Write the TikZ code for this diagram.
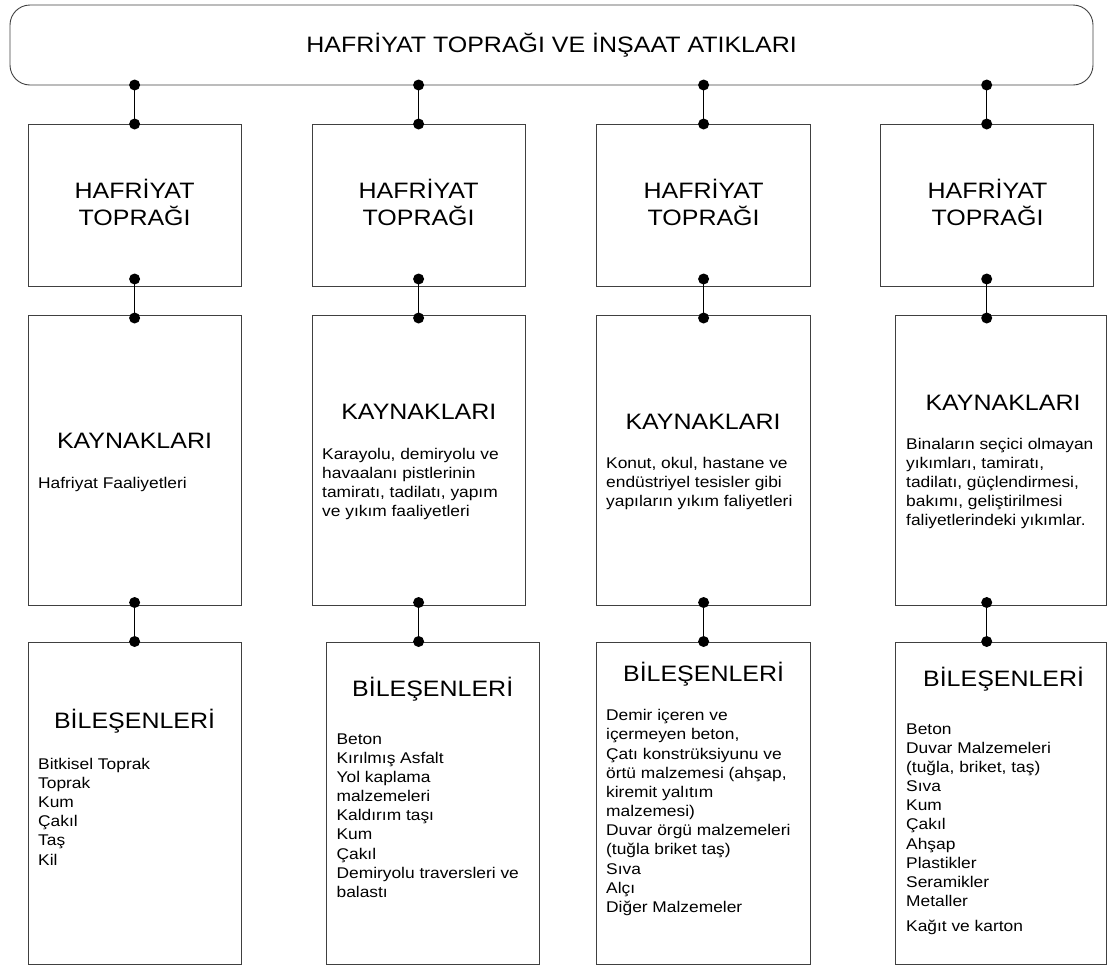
\documentclass[tikz,border=0pt]{standalone}
\usepackage{fontspec}
\setmainfont{Liberation Sans}[FakeStretch=1.12]
\begin{document}
\begin{tikzpicture}[x=1pt,y=-1pt,
  box/.style={draw=black!75, line width=0.9pt, rectangle, inner sep=0pt},
  dot/.style={circle, fill=black, inner sep=0pt, minimum size=11pt},
  conn/.style={line width=1.2pt, draw=black},
  hd/.style={font=\fontsize{22.3}{27}\selectfont, align=center, inner sep=0pt, anchor=base},
  txt/.style={font=\fontsize{15.5}{19.15}\selectfont, align=left, inner sep=0pt, anchor=base west}]
\useasboundingbox (0,0) rectangle (1107,967);

% top box
\node[box, rounded corners=20pt, minimum width=1083pt, minimum height=80pt] (top) at (551.5,45) {};
\node[hd] (title) at (551.5,52.3) {HAFRİYAT TOPRAĞI VE İNŞAAT ATIKLARI};

% row 1
\node[box, minimum width=213pt, minimum height=162pt] (h1) at (134.5,205) {};
\node[box, minimum width=213pt, minimum height=162pt] (h2) at (418.5,205) {};
\node[box, minimum width=214pt, minimum height=162pt] (h3) at (703,205) {};
\node[box, minimum width=213pt, minimum height=162pt] (h4) at (986.5,205) {};
\node[hd] (h1t) at (134.6,225) {HAFRİYAT\\TOPRAĞI};
\node[hd] (h2t) at (418.6,225) {HAFRİYAT\\TOPRAĞI};
\node[hd] (h3t) at (703.6,225) {HAFRİYAT\\TOPRAĞI};
\node[hd] (h4t) at (987.5,225) {HAFRİYAT\\TOPRAĞI};

% row 2
\node[box, minimum width=213pt, minimum height=290pt] (k1) at (134.5,460) {};
\node[box, minimum width=213pt, minimum height=290pt] (k2) at (418.5,460) {};
\node[box, minimum width=214pt, minimum height=290pt] (k3) at (703,460) {};
\node[box, minimum width=211pt, minimum height=290pt] (k4) at (1000.5,460) {};
\node[hd] (k1h) at (134.5,448.3) {KAYNAKLARI};
\node[hd] (k2h) at (418.8,419) {KAYNAKLARI};
\node[hd] (k3h) at (703,429) {KAYNAKLARI};
\node[hd] (k4h) at (1003,410) {KAYNAKLARI};
\node[txt] (k1t) at (38,488.7) {Hafriyat Faaliyetleri};
\node[txt] (k2t) at (322,516.5) {Karayolu, demiryolu ve\\havaalanı pistlerinin\\tamiratı, tadilatı, yapım\\ve yıkım faaliyetleri};
\node[txt] (k3t) at (606,506.6) {Konut, okul, hastane ve\\endüstriyel tesisler gibi\\yapıların yıkım faliyetleri};
\node[txt] (k4t) at (906,525.9) {Binaların seçici olmayan\\yıkımları, tamiratı,\\tadilatı, güçlendirmesi,\\bakımı, geliştirilmesi\\faliyetlerindeki yıkımlar.};

% row 3
\node[box, minimum width=213pt, minimum height=322pt] (b1) at (134.5,803) {};
\node[box, minimum width=213pt, minimum height=322pt] (b2) at (432.5,803) {};
\node[box, minimum width=214pt, minimum height=322pt] (b3) at (703,803) {};
\node[box, minimum width=211pt, minimum height=322pt] (b4) at (1000.5,803) {};
\node[hd] (b1h) at (134.6,728.3) {BİLEŞENLERİ};
\node[hd] (b2h) at (432.7,696.7) {BİLEŞENLERİ};
\node[hd] (b3h) at (703.6,681.7) {BİLEŞENLERİ};
\node[hd] (b4h) at (1003.6,686.7) {BİLEŞENLERİ};
\node[txt] (b1t) at (38,865) {Bitkisel Toprak\\Toprak\\Kum\\Çakıl\\Taş\\Kil};
\node[txt] (b2t) at (336.4,897.3) {Beton\\Kırılmış Asfalt\\Yol kaplama\\malzemeleri\\Kaldırım taşı\\Kum\\Çakıl\\Demiryolu traversleri ve\\balastı};
\node[txt] (b3t) at (606,912.3) {Demir içeren ve\\içermeyen beton,\\Çatı konstrüksiyunu ve\\örtü malzemesi (ahşap,\\kiremit yalıtım\\malzemesi)\\Duvar örgü malzemeleri\\(tuğla briket taş)\\Sıva\\Alçı\\Diğer Malzemeler};
\node[txt] (b4t) at (906,931.7) {Beton\\Duvar Malzemeleri\\(tuğla, briket, taş)\\Sıva\\Kum\\Çakıl\\Ahşap\\Plastikler\\Seramikler\\Metaller\\[6pt]Kağıt ve karton};

% connectors with dots
\foreach \i/\x in {1/134.6,2/418.6,3/703.6,4/986.7}{
  \node[dot] (p\i) at (\x,85) {};
  \node[dot] (q\i) at (\x,124) {};
  \node[dot] (r\i) at (\x,279) {};
  \node[dot] (s\i) at (\x,318) {};
  \node[dot] (u\i) at (\x,602.5) {};
  \node[dot] (v\i) at (\x,641.5) {};
  \draw[conn] (p\i.center) -- (q\i.center);
  \draw[conn] (r\i.center) -- (s\i.center);
  \draw[conn] (u\i.center) -- (v\i.center);
}
\end{tikzpicture}
\end{document}
